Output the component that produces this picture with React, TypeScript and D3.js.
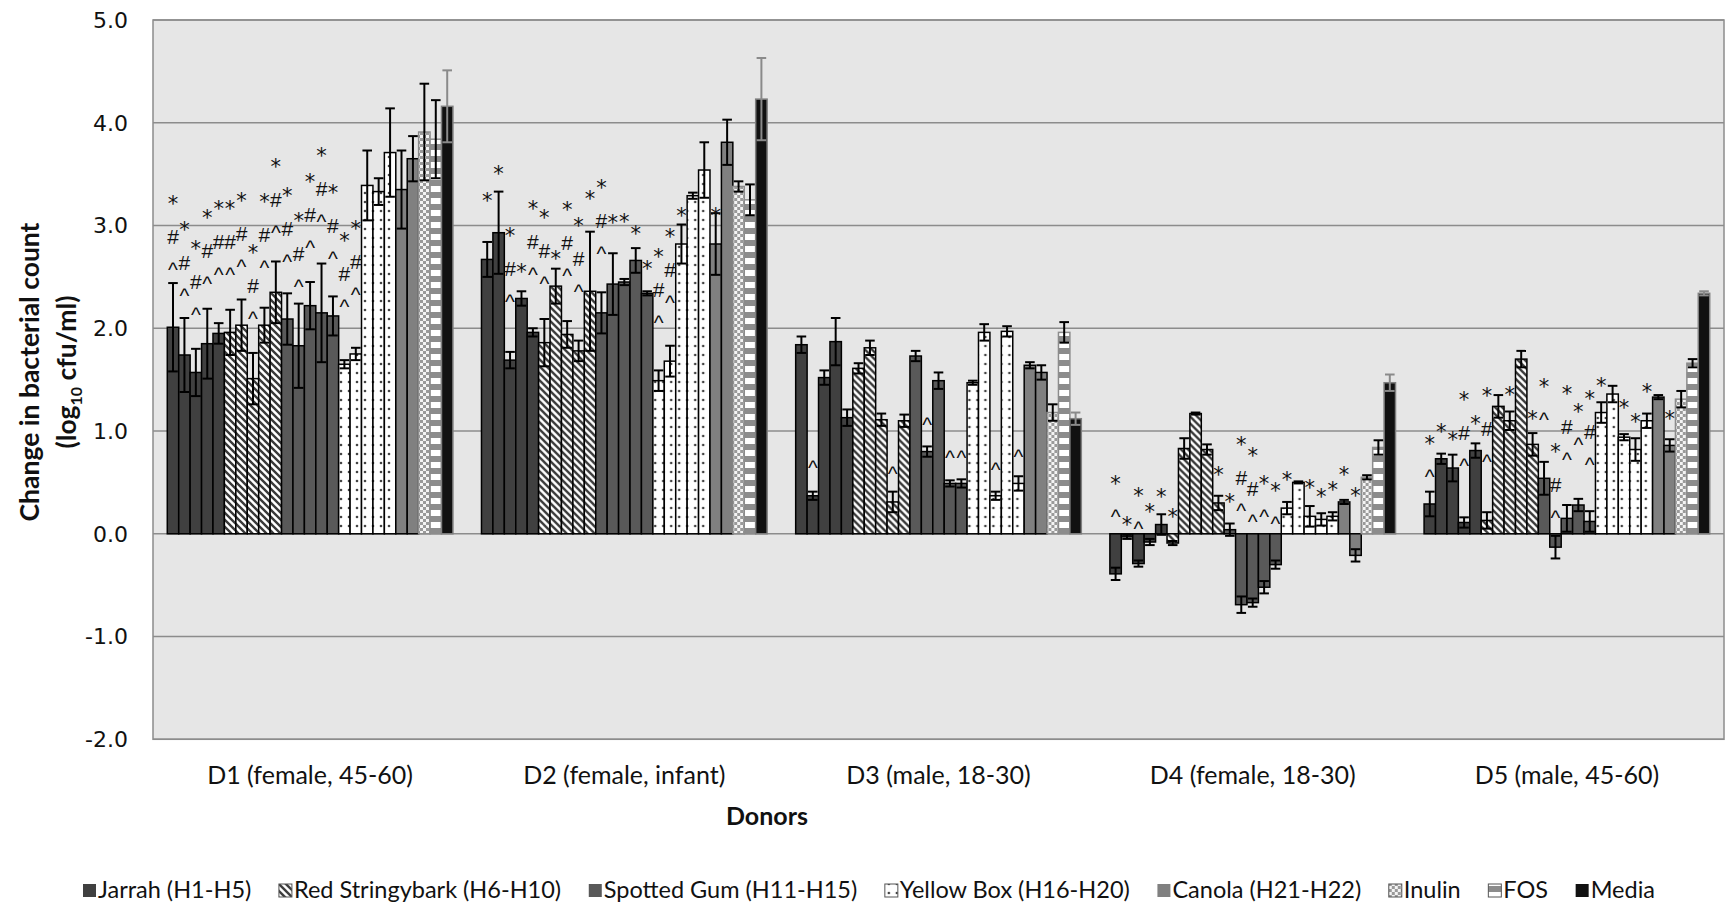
import React, { useEffect, useRef } from 'react';
import * as d3 from 'd3';

const donors = ['D1 (female, 45-60)', 'D2 (female, infant)', 'D3 (male, 18-30)', 'D4 (female, 18-30)', 'D5 (male, 45-60)'];
const treatments = ['H1', 'H2', 'H3', 'H4', 'H5', 'H6', 'H7', 'H8', 'H9', 'H10', 'H11', 'H12', 'H13', 'H14', 'H15',
  'H16', 'H17', 'H18', 'H19', 'H20', 'H21', 'H22', 'Inulin', 'FOS', 'Media'];
const treatmentGroup = ['J', 'J', 'J', 'J', 'J', 'R', 'R', 'R', 'R', 'R', 'S', 'S', 'S', 'S', 'S',
  'Y', 'Y', 'Y', 'Y', 'Y', 'C', 'C', 'I', 'F', 'M'];
const groupKeys = ['J', 'R', 'S', 'Y', 'C', 'I', 'F', 'M'];
const groupNames = ['Jarrah (H1-H5)', 'Red Stringybark (H6-H10)', 'Spotted Gum (H11-H15)', 'Yellow Box (H16-H20)',
  'Canola (H21-H22)', 'Inulin', 'FOS', 'Media'];
const yTicks = [-2, -1, 0, 1, 2, 3, 4, 5];

// change in log10 cfu/ml, one value per treatment
const d1Mean = [2.01, 1.74, 1.57, 1.85, 1.95, 1.96, 2.03, 1.51, 2.03, 2.35, 2.09, 1.83, 2.22, 2.15, 2.12, 1.65, 1.75, 3.39, 3.33, 3.71, 3.35, 3.65, 3.91, 3.84, 4.16];
const d1Err = [0.43, 0.36, 0.23, 0.34, 0.10, 0.22, 0.25, 0.25, 0.17, 0.30, 0.25, 0.41, 0.23, 0.48, 0.19, 0.04, 0.06, 0.34, 0.13, 0.43, 0.38, 0.22, 0.47, 0.38, 0.35];
const d2Mean = [2.67, 2.93, 1.69, 2.29, 1.96, 1.86, 2.41, 1.94, 1.78, 2.36, 2.15, 2.43, 2.45, 2.66, 2.34, 1.49, 1.68, 2.82, 3.29, 3.54, 2.82, 3.81, 3.38, 3.25, 4.23];
const d2Err = [0.17, 0.40, 0.08, 0.07, 0.04, 0.23, 0.17, 0.13, 0.10, 0.58, 0.20, 0.30, 0.03, 0.12, 0.02, 0.10, 0.15, 0.19, 0.03, 0.27, 0.30, 0.22, 0.05, 0.15, 0.40];
const d3Mean = [1.84, 0.37, 1.52, 1.87, 1.13, 1.61, 1.81, 1.11, 0.31, 1.10, 1.73, 0.80, 1.49, 0.49, 0.49, 1.47, 1.96, 0.37, 1.97, 0.49, 1.64, 1.57, 1.18, 1.96, 1.12];
const d3Err = [0.08, 0.04, 0.07, 0.23, 0.08, 0.05, 0.07, 0.06, 0.10, 0.06, 0.05, 0.05, 0.08, 0.03, 0.04, 0.02, 0.08, 0.04, 0.05, 0.07, 0.03, 0.07, 0.08, 0.10, 0.06];
const d4Mean = [-0.39, -0.03, -0.29, -0.08, 0.09, -0.09, 0.83, 1.17, 0.82, 0.30, 0.04, -0.69, -0.67, -0.52, -0.30, 0.25, 0.50, 0.17, 0.14, 0.17, 0.31, -0.21, 0.55, 0.84, 1.47];
const d4Err = [0.06, 0.02, 0.03, 0.03, 0.10, 0.02, 0.10, 0.01, 0.05, 0.07, 0.06, 0.08, 0.04, 0.06, 0.04, 0.06, 0.01, 0.10, 0.06, 0.04, 0.02, 0.06, 0.02, 0.07, 0.08];
const d5Mean = [0.29, 0.73, 0.64, 0.11, 0.81, 0.13, 1.24, 1.10, 1.70, 0.87, 0.54, -0.13, 0.15, 0.28, 0.12, 1.18, 1.36, 0.94, 0.82, 1.10, 1.33, 0.86, 1.31, 1.66, 2.34];
const d5Err = [0.12, 0.05, 0.13, 0.05, 0.07, 0.08, 0.11, 0.09, 0.08, 0.11, 0.16, 0.11, 0.13, 0.06, 0.10, 0.10, 0.08, 0.03, 0.11, 0.07, 0.02, 0.06, 0.08, 0.04, 0.02];

// significance marks (top to bottom) and the level of the top mark
const d1Marks = ['*#^', '*#^', '*#^', '*#^', '*#^', '*#^', '*#^', '*#^', '*#^', '*#^', '*#^', '*#^', '*#^', '*#^', '*#^', '*#^', '*#^', '', '', '', '', '', '', '', ''];
const d1MarkAt = [3.26, 3.0, 2.82, 3.12, 3.21, 3.21, 3.29, 2.78, 3.28, 3.62, 3.34, 3.09, 3.47, 3.72, 3.36, 2.9, 3.01, 0, 0, 0, 0, 0, 0, 0, 0];
const d2Marks = ['*', '*', '*#^', '*', '*#^', '*#^', '*', '*#^', '*#^', '*', '*#^', '*', '*', '*', '*', '*#^', '*#^', '*', '', '', '*', '', '', '', ''];
const d2MarkAt = [3.29, 3.55, 2.95, 2.6, 3.21, 3.12, 2.72, 3.2, 3.04, 3.31, 3.41, 3.07, 3.08, 2.97, 2.63, 2.74, 2.94, 3.14, 0, 0, 3.14, 0, 0, 0, 0];
const d3Marks = ['', '^', '', '', '', '', '', '', '^', '', '', '^', '', '^', '^', '', '', '^', '', '^', '', '', '', '', ''];
const d3MarkAt = [0, 0.68, 0, 0, 0, 0, 0, 0, 0.62, 0, 0, 1.1, 0, 0.78, 0.78, 0, 0, 0.66, 0, 0.79, 0, 0, 0, 0, 0];
const d4Marks = ['*^', '*', '*^', '*', '*', '*', '', '', '', '*', '*', '*#^', '*#^', '*^', '*^', '*', '', '*', '*', '*', '*', '*', '', '', ''];
const d4MarkAt = [0.53, 0.13, 0.42, 0.26, 0.41, 0.21, 0, 0, 0, 0.62, 0.36, 0.91, 0.81, 0.53, 0.46, 0.57, 0, 0.49, 0.41, 0.47, 0.62, 0.42, 0, 0, 0];
const d5Marks = ['*^', '*', '*', '*#^', '*', '*#^', '', '*', '', '*', '*^', '*#^', '*#^', '*^', '*#^', '*', '', '*', '*', '*', '', '*', '', '', ''];
const d5MarkAt = [0.92, 1.04, 0.96, 1.35, 1.12, 1.39, 0, 1.4, 0, 1.17, 1.48, 0.84, 1.41, 1.23, 1.36, 1.49, 0, 1.27, 1.14, 1.43, 0, 1.17, 0, 0, 0];

const means = [d1Mean, d2Mean, d3Mean, d4Mean, d5Mean];
const errs = [d1Err, d2Err, d3Err, d4Err, d5Err];
const marks = [d1Marks, d2Marks, d3Marks, d4Marks, d5Marks];
const markAt = [d1MarkAt, d2MarkAt, d3MarkAt, d4MarkAt, d5MarkAt];

const fills: Record<string, string> = {
  J: '#404040', R: 'url(#hatch)', S: '#595959', Y: 'url(#dots)', C: '#808080', I: 'url(#checks)', F: 'url(#bands)', M: '#111111',
};
const strokes: Record<string, string> = {
  J: '#000', R: '#000', S: '#000', Y: '#000', C: '#000', I: '#8c8c8c', F: '#8c8c8c', M: '#7f7f7f',
};

const sans = "Lato, 'Open Sans', sans-serif";
// mark glyph fonts and the height of each glyph's centre above its baseline (em)
const markFont: Record<string, string> = { '*': "'DejaVu Sans', sans-serif", '#': "'Liberation Sans', Arial, sans-serif", '^': "'Liberation Sans', Arial, sans-serif" };
const markOff: Record<string, number> = { '*': 0.57, '#': 0.345, '^': 0.52 };

export default function App() {
  const svgRef = useRef<SVGSVGElement>(null);

  useEffect(() => {
    const svg = d3.select(svgRef.current);
    svg.selectAll('*').remove();

    const defs = svg.append('defs');
    const hatch = defs.append('pattern').attr('id', 'hatch').attr('patternUnits', 'userSpaceOnUse')
      .attr('width', 7).attr('height', 7);
    hatch.append('rect').attr('width', 7).attr('height', 7).attr('fill', '#fff');
    hatch.append('path').attr('d', 'M-2,-2 L9,9 M-9,-2 L2,9 M5,-2 L16,9')
      .attr('stroke', '#3a3a3a').attr('stroke-width', 2.4);

    const dots = defs.append('pattern').attr('id', 'dots').attr('patternUnits', 'userSpaceOnUse')
      .attr('width', 8).attr('height', 9);
    dots.append('rect').attr('width', 8).attr('height', 9).attr('fill', '#fff');
    dots.append('circle').attr('cx', 4).attr('cy', 4).attr('r', 1.3).attr('fill', '#444');

    const checks = defs.append('pattern').attr('id', 'checks').attr('patternUnits', 'userSpaceOnUse')
      .attr('width', 6).attr('height', 6);
    checks.append('rect').attr('width', 6).attr('height', 6).attr('fill', '#9a9a9a');
    checks.append('rect').attr('width', 3).attr('height', 3).attr('fill', '#f4f4f4');
    checks.append('rect').attr('x', 3).attr('y', 3).attr('width', 3).attr('height', 3).attr('fill', '#f4f4f4');

    const bands = defs.append('pattern').attr('id', 'bands').attr('patternUnits', 'userSpaceOnUse')
      .attr('width', 10).attr('height', 12);
    bands.append('rect').attr('width', 10).attr('height', 12).attr('fill', '#fff');
    bands.append('rect').attr('width', 10).attr('height', 6).attr('fill', '#8c8c8c');

    const y = d3.scaleLinear().domain([-2, 5]).range([739.3, 20]);
    const x0 = d3.scaleBand().domain(donors).range([153, 1724]);
    const x1 = d3.scaleBand().domain(treatments).range([0, x0.bandwidth()]).paddingOuter(1.25);
    const bw = x1.bandwidth();

    // plot area and gridlines
    svg.append('rect').attr('x', 153).attr('y', y(5)).attr('width', 1724 - 153).attr('height', y(-2) - y(5))
      .attr('fill', '#e6e6e6').attr('stroke', '#8c8c8c').attr('stroke-width', 1.5);
    svg.append('g').selectAll('line').data(yTicks).join('line')
      .attr('x1', 153).attr('x2', 1724).attr('y1', d => y(d)).attr('y2', d => y(d))
      .attr('stroke', '#8c8c8c').attr('stroke-width', 1.5);

    svg.append('g').selectAll('text').data(yTicks).join('text')
      .attr('x', 128).attr('y', d => y(d)).attr('dy', '0.36em').attr('text-anchor', 'end')
      .attr('font-family', "'DejaVu Sans', sans-serif").attr('font-size', 22).attr('fill', '#111')
      .text(d => d.toFixed(1));

    const groups = svg.append('g').selectAll('g').data(donors).join('g')
      .attr('transform', d => `translate(${x0(d)},0)`);

    groups.each(function (donor, di) {
      const g = d3.select(this);
      const rows = treatments.map((t, i) => ({ t, k: treatmentGroup[i], v: means[di][i], e: errs[di][i], m: marks[di][i], at: markAt[di][i] }));

      g.selectAll('rect.bar').data(rows).join('rect').attr('class', 'bar')
        .attr('x', d => x1(d.t)!).attr('width', bw)
        .attr('y', d => y(Math.max(0, d.v))).attr('height', d => Math.abs(y(d.v) - y(0)))
        .attr('fill', d => fills[d.k]).attr('stroke', d => strokes[d.k]).attr('stroke-width', 1.5);

      const eb = g.selectAll('g.err').data(rows).join('g').attr('class', 'err')
        .attr('stroke', d => (d.k === 'M' ? '#8a8a8a' : '#000')).attr('stroke-width', 2);
      const cx = (d: any) => x1(d.t)! + bw / 2;
      const cap = bw * 0.42;
      eb.append('line').attr('x1', cx).attr('x2', cx).attr('y1', d => y(d.v - d.e)).attr('y2', d => y(d.v + d.e));
      eb.append('line').attr('x1', d => cx(d) - cap).attr('x2', d => cx(d) + cap).attr('y1', d => y(d.v + d.e)).attr('y2', d => y(d.v + d.e));
      eb.append('line').attr('x1', d => cx(d) - cap).attr('x2', d => cx(d) + cap).attr('y1', d => y(d.v - d.e)).attr('y2', d => y(d.v - d.e));

      const fs = 21;
      const marked = rows.filter(d => d.m);
      const mg = g.selectAll('text.mark').data(marked).join('text').attr('class', 'mark')
        .attr('font-size', fs).attr('fill', '#111').attr('text-anchor', 'middle');
      mg.each(function (d) {
        const t = d3.select(this);
        const b0 = y(d.at) + markOff[d.m[0]] * fs;
        d.m.split('').forEach((ch, k) => {
          t.append('tspan').attr('x', cx(d)).attr('y', b0 + 33 * k).attr('font-family', markFont[ch]).text(ch);
        });
      });
    });

    // category labels
    svg.append('g').selectAll('text').data(donors).join('text')
      .attr('x', d => x0(d)! + x0.bandwidth() / 2).attr('y', 784).attr('text-anchor', 'middle')
      .attr('font-family', sans).attr('font-size', 25).attr('fill', '#111').text(d => d);

    svg.append('text').attr('x', 767).attr('y', 825).attr('text-anchor', 'middle')
      .attr('font-family', sans).attr('font-weight', 'bold').attr('font-size', 25).attr('fill', '#111').text('Donors');

    const yt = svg.append('text').attr('transform', 'translate(0,372) rotate(-90)').attr('text-anchor', 'middle')
      .attr('font-family', sans).attr('font-weight', 'bold').attr('font-size', 26.5).attr('fill', '#111');
    yt.append('tspan').attr('x', 0).attr('y', 39).text('Change in bacterial count');
    const l2 = yt.append('tspan').attr('x', 0).attr('y', 76);
    l2.append('tspan').text('(log');
    l2.append('tspan').attr('font-size', 16).attr('dy', 6).text('10');
    l2.append('tspan').attr('dy', -6).text(' cfu/ml)');

    // legend
    const lg = svg.append('g');
    const items = lg.selectAll('g').data(groupKeys).join('g');
    items.append('rect').attr('x', 0).attr('y', -14).attr('width', 13).attr('height', 13)
      .attr('fill', d => fills[d]).attr('stroke', d => (d === 'J' || d === 'S' || d === 'C' || d === 'M') ? 'none' : '#555').attr('stroke-width', 1);
    items.append('text').attr('x', 15).attr('y', 0).attr('font-family', sans).attr('font-size', 23.5).attr('fill', '#111')
      .text((d, i) => groupNames[i]);
    const widths: number[] = [];
    items.each(function () {
      const t = d3.select(this).select('text').node() as SVGTextElement;
      widths.push(15 + t.getComputedTextLength());
    });
    const left = 83, right = 1655;
    const gap = (right - left - d3.sum(widths)) / (widths.length - 1);
    let cur = left;
    items.attr('transform', (d, i) => {
      const tx = cur;
      cur += widths[i] + gap;
      return `translate(${tx},898)`;
    });
  }, []);

  return (
    <svg ref={svgRef} width={1726} height={903}
      style={{ position: 'absolute', left: 0, top: 0, background: '#fff' }} />
  );
}
